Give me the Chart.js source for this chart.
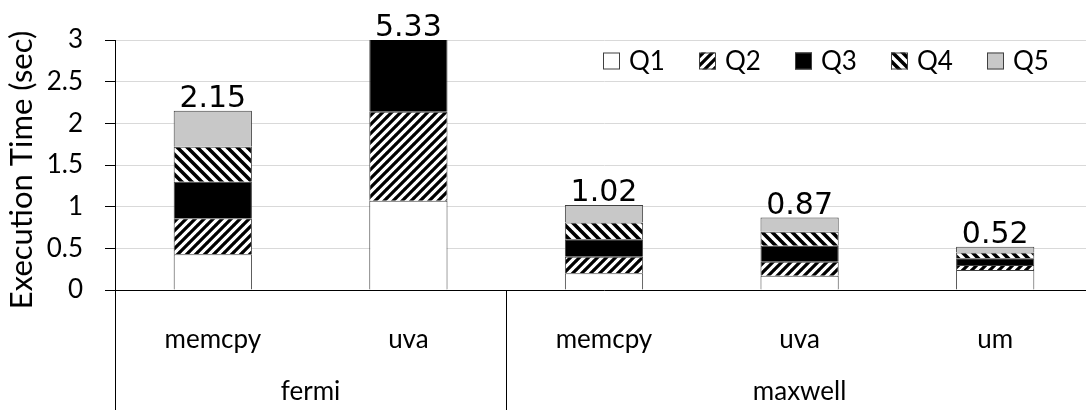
<!DOCTYPE html>
<html>
<head>
<meta charset="utf-8">
<script src="https://cdn.jsdelivr.net/npm/chart.js@4/dist/chart.umd.min.js"></script>
<style>
  html, body { margin: 0; padding: 0; background: #fff; overflow: hidden; }
  #wrap { position: relative; width: 1100px; height: 410px; }
</style>
</head>
<body>
<div id="wrap"><canvas id="c" width="1100" height="410"></canvas></div>
<script>
// Platform groups and the configurations inside each group
const groups = ['fermi', 'maxwell'];
const groupSizes = [2, 3];
const categories = ['memcpy', 'uva', 'memcpy', 'uva', 'um'];

// Execution time per query (sec)
const seriesNames = ['Q1', 'Q2', 'Q3', 'Q4', 'Q5'];
const q1 = [0.43, 1.07, 0.20, 0.17, 0.24];
const q2 = [0.43, 1.07, 0.20, 0.17, 0.06];
const q3 = [0.44, 1.07, 0.21, 0.19, 0.08];
const q4 = [0.42, 1.06, 0.20, 0.17, 0.07];
const q5 = [0.43, 1.06, 0.21, 0.17, 0.07];

// Value axis
const yMin = 0, yMax = 3, yStep = 0.5;
const yTitle = 'Execution Time (sec)';

const FONT = 'Lato';
const LABEL_FONT = 'DejaVu Sans';

// Diagonal hatch fills
function hatch(dir, period, frac) {
  const c = document.createElement('canvas');
  c.width = period; c.height = period;
  const g = c.getContext('2d');
  g.fillStyle = '#fff';
  g.fillRect(0, 0, period, period);
  g.strokeStyle = '#000';
  g.lineWidth = period * frac;
  g.beginPath();
  for (let k = -1; k <= 1; k++) {
    if (dir === 'up') {
      g.moveTo(k * period - 1, period + 1);
      g.lineTo(k * period + period + 1, -1);
    } else {
      g.moveTo(k * period - 1, -1);
      g.lineTo(k * period + period + 1, period + 1);
    }
  }
  g.stroke();
  return g.createPattern(c, 'repeat');
}

const fills = ['#ffffff', hatch('up', 9, 0.36), '#000000', hatch('down', 10, 0.36), '#c8c8c8'];
const seriesData = [q1, q2, q3, q4, q5];

const datasets = seriesNames.map((name, i) => ({
  label: name,
  data: seriesData[i],
  backgroundColor: fills[i],
  borderColor: '#404040',
  borderWidth: 1,
  barPercentage: 0.4,
  categoryPercentage: 1.0
}));

// Totals printed above every stack
const totalsPlugin = {
  id: 'totals',
  afterDatasetsDraw(chart) {
    const { ctx, scales: { x, y } } = chart;
    ctx.save();
    ctx.font = '30px "' + LABEL_FONT + '"';
    ctx.fillStyle = '#000';
    ctx.textAlign = 'center';
    ctx.textBaseline = 'alphabetic';
    categories.forEach((_, i) => {
      const total = seriesData.reduce((s, arr) => s + arr[i], 0);
      const py = y.getPixelForValue(Math.min(total, y.max));
      ctx.fillText(total.toFixed(2), x.getPixelForValue(i), py - 4);
    });
    ctx.restore();
  }
};

// Group labels, group separators, axis title and legend
const decorPlugin = {
  id: 'decor',
  afterDraw(chart) {
    const { ctx, chartArea: area, scales: { x } } = chart;
    const bottom = chart.height;
    ctx.save();

    // separators below the category axis
    ctx.strokeStyle = '#000';
    ctx.lineWidth = 1;
    const edges = [area.left];
    let idx = 0;
    groupSizes.forEach((n) => {
      idx += n;
      if (idx < categories.length) {
        edges.push((x.getPixelForValue(idx - 1) + x.getPixelForValue(idx)) / 2);
      } else {
        edges.push(area.right);
      }
    });
    ctx.beginPath();
    edges.forEach((ex) => {
      const px = Math.round(ex) + 0.5;
      ctx.moveTo(px, area.bottom);
      ctx.lineTo(px, bottom);
    });
    ctx.stroke();

    // group names
    ctx.font = '26px ' + FONT;
    ctx.fillStyle = '#000';
    ctx.textAlign = 'center';
    ctx.textBaseline = 'middle';
    let start = 0;
    groups.forEach((gname, gi) => {
      const end = start + groupSizes[gi] - 1;
      const cx = (x.getPixelForValue(start) + x.getPixelForValue(end)) / 2;
      ctx.fillText(gname, cx, area.bottom + 102);
      start = end + 1;
    });

    // value axis title
    ctx.save();
    ctx.translate(22, (area.top + area.bottom) / 2 + 5);
    ctx.rotate(-Math.PI / 2);
    ctx.font = '31px ' + FONT;
    ctx.fillText(yTitle, 0, 0);
    ctx.restore();

    // legend
    const lx0 = 603, ly = 61, step = 96, box = 17;
    ctx.textAlign = 'left';
    ctx.textBaseline = 'middle';
    ctx.font = '26px ' + FONT;
    chart.data.datasets.forEach((ds, i) => {
      const bx = lx0 + i * step;
      ctx.fillStyle = ds.backgroundColor;
      ctx.fillRect(bx, ly - box / 2, box, box);
      ctx.strokeStyle = '#404040';
      ctx.strokeRect(bx + 0.5, ly - box / 2 + 0.5, box - 1, box - 1);
      ctx.fillStyle = '#000';
      ctx.fillText(ds.label, bx + box + 9, ly + 1);
    });

    ctx.restore();
  }
};

new Chart(document.getElementById('c'), {
  type: 'bar',
  data: { labels: categories, datasets },
  options: {
    responsive: false,
    animation: false,
    devicePixelRatio: 1,
    layout: { padding: { top: 40, right: 7, left: 0, bottom: 0 } },
    plugins: {
      legend: { display: false },
      tooltip: { enabled: false }
    },
    scales: {
      x: {
        stacked: true,
        grid: { display: false, drawTicks: false },
        border: { display: true, color: '#000', width: 1 },
        ticks: {
          color: '#000',
          font: { family: FONT, size: 26 },
          padding: 34,
          maxRotation: 0,
          autoSkip: false
        },
        afterFit(scale) { scale.height = 120; }
      },
      y: {
        stacked: true,
        min: yMin,
        max: yMax,
        grid: { color: '#d9d9d9', lineWidth: 1, tickColor: '#000', tickLength: 10 },
        border: { display: true, color: '#000', width: 1 },
        ticks: {
          stepSize: yStep,
          color: '#000',
          padding: 22,
          font: { family: FONT, size: 26 },
          callback: (v) => String(Number(v))
        },
        afterFit(scale) { scale.width = 115; }
      }
    }
  },
  plugins: [totalsPlugin, decorPlugin]
});
</script>
</body>
</html>
